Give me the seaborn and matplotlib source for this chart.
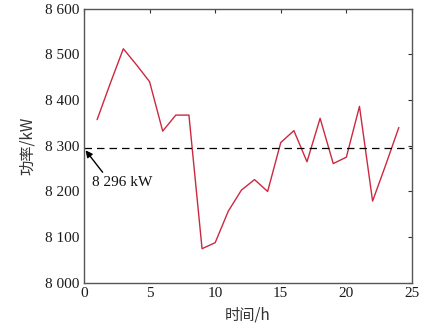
import matplotlib
matplotlib.use("Agg")
import matplotlib.pyplot as plt
import seaborn as sns
import pandas as pd
from matplotlib.ticker import FuncFormatter, MultipleLocator

hours = list(range(1, 25))
power = [8357, 8436, 8512, 8477, 8440, 8332, 8367, 8367, 8075, 8088,
         8157, 8203, 8226, 8200, 8307, 8333, 8265, 8360, 8261, 8275,
         8386, 8179, 8258, 8340]
mean_power = 8296
mean_label = "8 296 kW"
xlabel = "时间/h"
ylabel = "功率/kW"

sns.set_theme(style="white")
plt.rcParams['font.family'] = ['Liberation Serif', 'Noto Sans CJK SC']

df = pd.DataFrame({"hour": hours, "power": power})

fig = plt.figure(figsize=(4.42, 3.27), dpi=100)
ax = fig.add_axes([0.190, 0.1346, 0.742, 0.8394])

sns.lineplot(data=df, x="hour", y="power", ax=ax, color="#cc2840", linewidth=1.0)
ax.axhline(mean_power, color="black", linestyle=(0, (6, 4)), linewidth=0.9)

ax.text(0.58, 8219, mean_label, fontsize=11, va="center", ha="left", color="#111111")
ax.annotate("", xy=(0.12, mean_power - 6), xytext=(1.42, 8242),
            arrowprops=dict(arrowstyle="-|>", color="black", lw=1.0,
                            shrinkA=0, shrinkB=0, mutation_scale=10))

ax.set_xlim(0, 25)
ax.set_ylim(8000, 8600)
ax.xaxis.set_major_locator(MultipleLocator(5))
ax.yaxis.set_major_locator(MultipleLocator(100))
ax.yaxis.set_major_formatter(FuncFormatter(lambda v, p: f"{int(v):,}".replace(",", " ")))

ax.set_xlabel(xlabel, fontsize=11, family=['Noto Sans CJK SC', 'Liberation Serif'], color="#333333")
ax.set_ylabel(ylabel, fontsize=11, family=['Noto Sans CJK SC', 'Liberation Serif'], color="#333333")
ax.xaxis.set_label_coords(0.5, -0.085)
ax.yaxis.set_label_coords(-0.145, 0.5)

ax.tick_params(direction="in", length=3, width=0.8, top=True, right=True,
               labelsize=11, colors="#333333", labelcolor="#1a1a1a", pad=3)
for s in ax.spines.values():
    s.set_color("#555555")
    s.set_linewidth(1.0)

fig.savefig("out.png", dpi=100)
